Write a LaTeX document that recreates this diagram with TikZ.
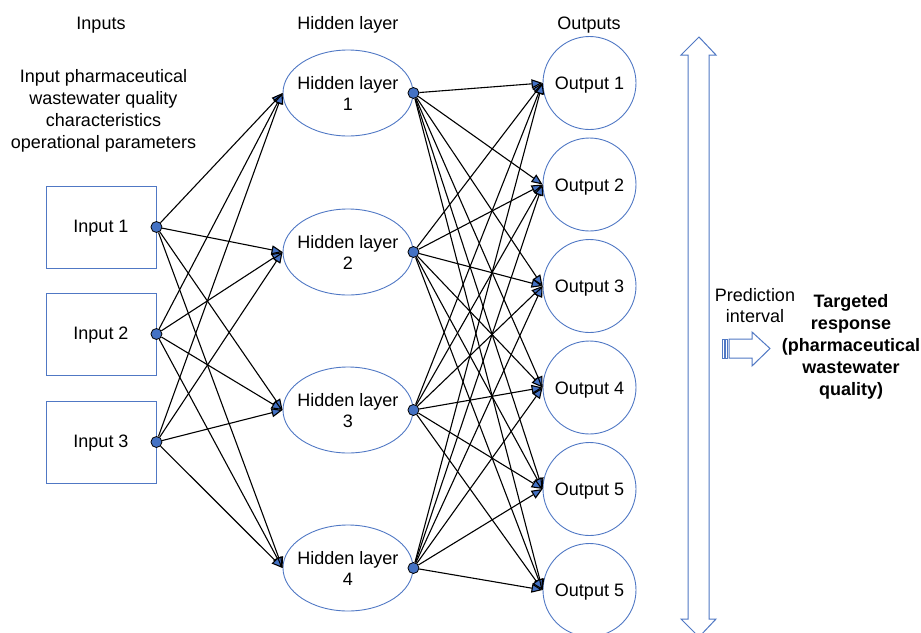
\documentclass[tikz,border=0pt]{standalone}
\usepackage{fontspec}
\setmainfont{Liberation Sans}
\usetikzlibrary{shapes.geometric,arrows.meta}
\definecolor{edgeblue}{RGB}{80,120,196}
\definecolor{fillblue}{RGB}{68,114,196}
\begin{document}
\begin{tikzpicture}[x=1pt,y=-1pt,
  every node/.style={font=\fontsize{18}{21.5}\selectfont, text=black},
  inbox/.style={draw=edgeblue, line width=0.9pt, minimum width=110pt, minimum height=82pt, inner sep=0pt},
  hid/.style={draw=edgeblue, ellipse, line width=0.9pt, minimum width=130pt, minimum height=86pt, inner sep=0pt},
  outc/.style={draw=edgeblue, circle, line width=0.9pt, minimum size=93pt, inner sep=0pt},
  joint/.style={circle, fill=fillblue, draw=black, line width=0.8pt, minimum size=11pt, inner sep=0pt},
  link/.style={draw=black, line width=1.1pt, -{Triangle[length=11pt,width=9pt,fill=fillblue]}},
  blockarrow/.style={draw=edgeblue, line width=1pt, fill=white},
  boldtext/.style={font=\fontsize{18}{22}\selectfont\bfseries, align=center}
]
\useasboundingbox (0,0) rectangle (921,632);

% column headings
\node (tInputs) at (101,25) {Inputs};
\node (tHidden) at (348,25) {Hidden layer};
\node (tOutputs) at (589,25) {Outputs};
\node[align=center, font=\fontsize{18}{22}\selectfont] (tDesc) at (103.5,111)
  {Input pharmaceutical\\wastewater quality\\characteristics\\operational parameters};

% input boxes
\node[inbox] (in1) at (101,227) {};
\node[inbox] (in2) at (101,334) {};
\node[inbox] (in3) at (101,442) {};
\node (tIn1) at ([yshift=-1.5pt]in1.center) {Input 1};
\node (tIn2) at ([yshift=-1.5pt]in2.center) {Input 2};
\node (tIn3) at ([yshift=-1.5pt]in3.center) {Input 3};

% hidden layer ellipses
\foreach \i/\y in {1/93,2/252,3/410,4/568}{
  \node[hid] (h\i) at (348,\y) {};
  \node[align=center] (hl\i) at ([yshift=-0.5pt]h\i.center) {Hidden layer\\\i};
}

% output circles
\foreach \i/\y/\t in {1/83/1,2/184.5/2,3/286/3,4/387.5/4,5/489/5,6/590/5}{
  \node[outc] (o\i) at (589.5,\y) {};
  \node (ol\i) at ([yshift=-2.5pt]o\i.center) {Output \t};
}

% connection points
\node[joint] (id1) at (in1.east) {};
\node[joint] (id2) at (in2.east) {};
\node[joint] (id3) at (in3.east) {};
\foreach \i in {1,...,4}{
  \node[joint] (hd\i) at (h\i.east) {};
}

% input -> hidden links
\foreach \a in {1,2,3}{
  \foreach \b in {1,...,4}{
    \draw[link] (id\a) -- (h\b.west);
  }
}
% hidden -> output links
\foreach \a in {1,...,4}{
  \foreach \b in {1,...,6}{
    \draw[link] (hd\a) -- (o\b.west);
  }
}

% vertical double-headed interval arrow
\draw[blockarrow] (699,37) -- (716,55) -- (709,55) -- (709,619) -- (716,619)
  -- (699,637) -- (681,619) -- (688,619) -- (688,55) -- (681,55) -- cycle;

% prediction interval label and striped arrow
\node[align=center, font=\fontsize{18}{21}\selectfont] (tPred) at (755,306) {Prediction\\interval};
\draw[blockarrow] (722,339) rectangle (724,358);
\draw[blockarrow] (725.5,339) rectangle (727.5,358);
\draw[blockarrow] (729,339) -- (752,339) -- (752,332) -- (770,348.5) -- (752,366)
  -- (752,358) -- (729,358) -- cycle;

\node[boldtext] (tTarget) at (851,347)
  {Targeted\\response\\(pharmaceutical\\wastewater\\quality)};
\end{tikzpicture}
\end{document}
